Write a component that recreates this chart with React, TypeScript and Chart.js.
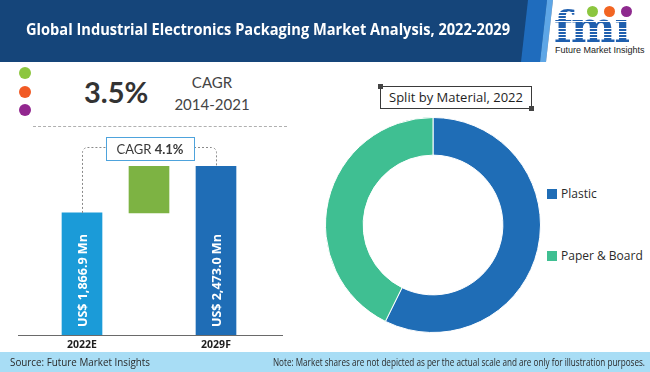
import React, { useEffect, useRef } from 'react';
import { Chart, registerables } from 'chart.js';
Chart.register(...registerables);

const TITLE = 'Global Industrial Electronics Packaging Market Analysis, 2022-2029';
const BAR_CATEGORIES = ['2022E', '', '2029F'];
const MARKET_2022 = 1866.9;
const MARKET_2029 = 2473.0;
const BAR_TEXTS = ['US$ 1,866.9 Mn', '', 'US$ 2,473.0 Mn'];
const CAGR_FORECAST = '4.1%';
const CAGR_HIST = '3.5%';
const CAGR_HIST_PERIOD = '2014-2021';
const MATERIALS = ['Plastic', 'Paper & Board'];
const MATERIAL_SHARES = [57.3, 42.7];
const DONUT_TITLE = 'Split by Material, 2022';
const SOURCE_TEXT = 'Source: Future Market Insights';
const NOTE_TEXT = 'Note: Market shares are not depicted as per the actual scale and are only for illustration purposes.';

const BAR_COLORS = ['#1b9bd8', '#7db343', '#1f6db6'];
const MATERIAL_COLORS = ['#1f6db6', '#3fbf92'];
const AXIS_FLOOR = 290;

let measureCtx: CanvasRenderingContext2D | null = null;
function textWidth(text: string, font: string) {
  if (!measureCtx) measureCtx = document.createElement('canvas').getContext('2d');
  measureCtx!.font = font;
  return measureCtx!.measureText(text).width;
}

function Fit({ text, font, width, left, top, color, lineHeight }: any) {
  const k = width / textWidth(text, font);
  return (
    <div
      style={{
        position: 'absolute',
        left,
        top,
        whiteSpace: 'nowrap',
        font,
        lineHeight: lineHeight + 'px',
        color,
        transform: `scaleX(${k})`,
        transformOrigin: 'left center',
      }}
    >
      {text}
    </div>
  );
}

const overlayPlugin = {
  id: 'overlay',
  afterDatasetsDraw(chart: any) {
    const ctx = chart.ctx as CanvasRenderingContext2D;
    const meta = chart.getDatasetMeta(0);
    const area = chart.chartArea;
    ctx.save();
    // baseline
    ctx.strokeStyle = '#6a6a6a';
    ctx.lineWidth = 1;
    ctx.beginPath();
    ctx.moveTo(18, Math.round(area.bottom) + 0.5);
    ctx.lineTo(283, Math.round(area.bottom) + 0.5);
    ctx.stroke();
    // rotated value texts
    BAR_TEXTS.forEach((t, i) => {
      if (!t) return;
      const bar = meta.data[i];
      ctx.save();
      ctx.translate(bar.x + 1, area.bottom - 8);
      ctx.rotate(-Math.PI / 2);
      ctx.fillStyle = '#ffffff';
      ctx.font = 'bold 12.5px "Open Sans"';
      ctx.textAlign = 'left';
      ctx.textBaseline = 'middle';
      ctx.fillText(t, 0, 0);
      ctx.restore();
    });
    // CAGR box + connectors
    const b0 = meta.data[0];
    const b2 = meta.data[2];
    const cx = (b0.x + b2.x) / 2 + 1;
    const boxW = 88;
    const boxH = 23;
    const boxTop = area.top - 29;
    const boxLeft = cx - boxW / 2;
    const lineY = boxTop + 10.5;
    const r = 5;
    ctx.strokeStyle = '#8a8a8a';
    ctx.setLineDash([2, 2]);
    ctx.beginPath();
    const lx = Math.round(b0.x) + 0.5;
    ctx.moveTo(lx, b0.y);
    ctx.lineTo(lx, lineY + r);
    ctx.arcTo(lx, lineY, lx + r, lineY, r);
    ctx.lineTo(boxLeft, lineY);
    const rx = Math.round(b2.x) + 0.5;
    ctx.moveTo(boxLeft + boxW, lineY);
    ctx.lineTo(rx - r, lineY);
    ctx.arcTo(rx, lineY, rx, lineY + r, r);
    ctx.lineTo(rx, b2.y);
    ctx.stroke();
    ctx.setLineDash([]);
    ctx.fillStyle = '#ffffff';
    ctx.fillRect(boxLeft, boxTop, boxW, boxH);
    ctx.strokeStyle = '#4ea3dc';
    ctx.strokeRect(Math.round(boxLeft) + 0.5, Math.round(boxTop) + 0.5, boxW, boxH);
    const f1 = '13px Lato';
    const f2 = 'bold 13px Lato';
    const t1 = 'CAGR ';
    ctx.font = f1;
    const w1 = ctx.measureText(t1).width;
    ctx.font = f2;
    const w2 = ctx.measureText(CAGR_FORECAST).width;
    const sx = cx - (w1 + w2) / 2;
    ctx.textBaseline = 'middle';
    ctx.textAlign = 'left';
    ctx.fillStyle = '#3a3a3a';
    ctx.font = f1;
    ctx.fillText(t1, sx, boxTop + boxH / 2 + 1);
    ctx.font = f2;
    ctx.fillText(CAGR_FORECAST, sx + w1, boxTop + boxH / 2 + 1);
    ctx.restore();
  },
};

function BarChart() {
  const ref = useRef<HTMLCanvasElement>(null);
  useEffect(() => {
    const chart = new Chart(ref.current!, {
      type: 'bar',
      data: {
        labels: BAR_CATEGORIES,
        datasets: [
          {
            data: [
              [AXIS_FLOOR, MARKET_2022],
              [MARKET_2022, MARKET_2029],
              [AXIS_FLOOR, MARKET_2029],
            ] as any,
            backgroundColor: BAR_COLORS,
            barThickness: 40,
            borderWidth: 0,
          },
        ],
      },
      options: {
        responsive: false,
        animation: false,
        layout: { padding: { left: 48.5, right: 50.5, top: 36, bottom: 0 } },
        plugins: { legend: { display: false }, tooltip: { enabled: false } },
        scales: {
          x: {
            grid: { display: false, drawTicks: false },
            border: { display: false },
            ticks: {
              padding: 4,
              color: '#1e1e1e',
              maxRotation: 0,
              autoSkip: false,
              font: { family: 'Open Sans', weight: 'bold', size: 10.5 },
            },
            afterFit: (s: any) => {
              s.height = 17;
            },
          },
          y: { display: false, min: AXIS_FLOOR, max: MARKET_2029 },
        },
      },
      plugins: [overlayPlugin],
    });
    return () => chart.destroy();
  }, []);
  return (
    <canvas
      ref={ref}
      width={300}
      height={222}
      style={{ position: 'absolute', left: 0, top: 130, width: 300, height: 222 }}
    />
  );
}

function Donut() {
  const ref = useRef<HTMLCanvasElement>(null);
  useEffect(() => {
    const chart = new Chart(ref.current!, {
      type: 'doughnut',
      data: {
        labels: MATERIALS,
        datasets: [
          {
            data: MATERIAL_SHARES,
            backgroundColor: MATERIAL_COLORS,
            borderColor: '#ffffff',
            borderWidth: 1,
          },
        ],
      },
      options: {
        responsive: false,
        animation: false,
        cutout: '65%',
        plugins: { legend: { display: false }, tooltip: { enabled: false } },
      },
    });
    return () => chart.destroy();
  }, []);
  return (
    <canvas
      ref={ref}
      width={216}
      height={216}
      style={{ position: 'absolute', left: 325, top: 117, width: 216, height: 216 }}
    />
  );
}

function Logo() {
  const stripes =
    'repeating-linear-gradient(180deg, #1f5fae 0px, #1f5fae 2.4px, #ffffff 2.4px, #ffffff 3.2px)';
  return (
    <div style={{ position: 'absolute', left: 548, top: 0, width: 102, height: 62 }}>
      <div
        style={{
          position: 'absolute',
          left: 6,
          top: 3,
          font: 'bold 42px "DejaVu Serif"',
          lineHeight: '50px',
          letterSpacing: '-1px',
          backgroundImage: stripes,
          WebkitBackgroundClip: 'text',
          backgroundClip: 'text',
          color: 'transparent',
          WebkitTextFillColor: 'transparent',
          whiteSpace: 'nowrap',
        }}
      >
        fmı
      </div>
      {[
        ['#8cc63f', 44],
        ['#f26522', 61],
        ['#8e2a8e', 78],
      ].map(([c, x]: any) => (
        <div
          key={c}
          style={{
            position: 'absolute',
            left: x - 5.5,
            top: 6,
            width: 11,
            height: 11,
            borderRadius: '50%',
            background: c,
          }}
        />
      ))}
      <div
        style={{
          position: 'absolute',
          left: 7,
          top: 44,
          font: '9px "Liberation Sans"',
          lineHeight: '12px',
          color: '#222',
          whiteSpace: 'nowrap',
        }}
      >
        Future Market Insights
      </div>
    </div>
  );
}

export default function App() {
  return (
    <div
      style={{
        position: 'absolute',
        left: 0,
        top: 0,
        width: 650,
        height: 372,
        background: '#ffffff',
        overflow: 'hidden',
        fontFamily: '"Open Sans", sans-serif',
      }}
    >
      {/* header */}
      <div style={{ position: 'absolute', left: 0, top: 0, width: 650, height: 62, background: '#15457a' }} />
      <div
        style={{
          position: 'absolute',
          left: 0,
          top: 0,
          width: 650,
          height: 62,
          background: '#1f6cbd',
          clipPath: 'polygon(528px 0, 547px 0, 540px 62px, 521px 62px)',
        }}
      />
      <div
        style={{
          position: 'absolute',
          left: 0,
          top: 0,
          width: 650,
          height: 62,
          background: '#5ea6e6',
          clipPath: 'polygon(547px 0, 553px 0, 546px 62px, 540px 62px)',
        }}
      />
      <div
        style={{
          position: 'absolute',
          left: 0,
          top: 0,
          width: 650,
          height: 62,
          background: '#ffffff',
          clipPath: 'polygon(553px 0, 650px 0, 650px 62px, 546px 62px)',
        }}
      />
      <Fit text={TITLE} font='bold 16px "Open Sans"' width={484} left={26} top={18} color='#ffffff' lineHeight={22} />
      <Logo />

      {/* left top KPI */}
      {['#8cc63f', '#f15a24', '#92278f'].map((c, i) => (
        <div
          key={c}
          style={{
            position: 'absolute',
            left: 19,
            top: 67 + i * 18.5,
            width: 12,
            height: 12,
            borderRadius: '50%',
            background: c,
          }}
        />
      ))}
      <div
        style={{
          position: 'absolute',
          left: 84,
          top: 75,
          font: 'bold 29px Lato',
          lineHeight: '34px',
          color: '#333',
          whiteSpace: 'nowrap',
        }}
      >
        {CAGR_HIST}
      </div>
      <div
        style={{
          position: 'absolute',
          left: 162,
          width: 100,
          top: 72,
          font: '15px Lato',
          lineHeight: '20px',
          color: '#444',
          textAlign: 'center',
          whiteSpace: 'nowrap',
        }}
      >
        CAGR
      </div>
      <div
        style={{
          position: 'absolute',
          left: 162,
          width: 100,
          top: 94,
          font: '15px Lato',
          lineHeight: '20px',
          color: '#444',
          textAlign: 'center',
          whiteSpace: 'nowrap',
        }}
      >
        {CAGR_HIST_PERIOD}
      </div>
      <div
        style={{
          position: 'absolute',
          left: 33,
          top: 126,
          width: 254,
          height: 0,
          borderTop: '1px dashed #b0b0b0',
        }}
      />

      <BarChart />
      <Donut />

      {/* donut title */}
      <div
        style={{
          position: 'absolute',
          left: 380,
          top: 86,
          width: 150,
          height: 21,
          border: '1px solid #3a3a3a',
          font: '13px "Open Sans"',
          lineHeight: '21px',
          color: '#1e1e1e',
          textAlign: 'center',
          boxSizing: 'content-box',
        }}
      >
        {DONUT_TITLE}
      </div>
      <div style={{ position: 'absolute', left: 378, top: 84, width: 5, height: 5, background: '#444' }} />
      <div style={{ position: 'absolute', left: 529, top: 106, width: 5, height: 5, background: '#444' }} />

      {/* legend */}
      {MATERIALS.map((m, i) => (
        <div key={m}>
          <div
            style={{
              position: 'absolute',
              left: 547,
              top: 189 + i * 62,
              width: 10,
              height: 10,
              background: MATERIAL_COLORS[i],
            }}
          />
          <div
            style={{
              position: 'absolute',
              left: 561,
              top: 186 + i * 62,
              font: '12px "Open Sans"',
              lineHeight: '16px',
              color: '#2a2a2a',
              whiteSpace: 'nowrap',
            }}
          >
            {m}
          </div>
        </div>
      ))}

      {/* footer */}
      <div style={{ position: 'absolute', left: 0, top: 352, width: 650, height: 20, background: '#a8ddf5' }} />
      <Fit text={SOURCE_TEXT} font='10px "Open Sans"' width={140} left={10} top={355} color='#2a2a2a' lineHeight={14} />
      <Fit text={NOTE_TEXT} font='10px "Open Sans"' width={372} left={273} top={355} color='#2a2a2a' lineHeight={14} />
    </div>
  );
}
